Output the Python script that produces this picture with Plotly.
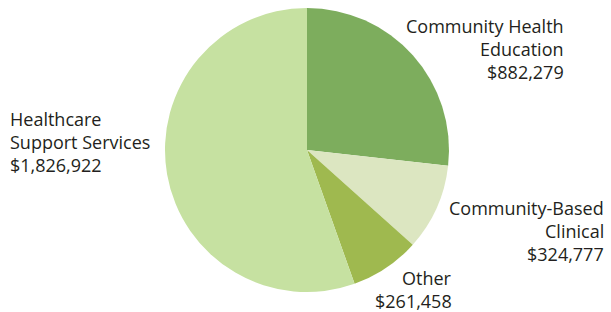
import plotly.graph_objects as go

categories = ["Community Health Education", "Community-Based Clinical", "Other", "Healthcare Support Services"]
label_lines = [["Community Health", "Education"], ["Community-Based", "Clinical"], ["Other"], ["Healthcare", "Support Services"]]
values = [882279, 324777, 261458, 1826922]
colors = ["#7dad5d", "#dce6c1", "#9fb94f", "#c6e1a1"]

W, H = 611, 312
fig = go.Figure(go.Pie(
    labels=categories, values=values, sort=False, direction="clockwise", rotation=0,
    marker=dict(colors=colors, line=dict(width=0)), textinfo="none", hoverinfo="label+value",
    domain=dict(x=[165 / W, 449 / W], y=[1 - 292 / H, 1 - 8 / H]), showlegend=False,
))

# label anchor positions in pixels (x, y of first line, align)
pos = [(566, 26, "right"), (606, 208, "right"), (454, 278, "right"), (8, 119, "left")]
font = dict(family="Open Sans, sans-serif", size=18, color="#231f20")
for lines, v, (px, py, al) in zip(label_lines, values, pos):
    texts = lines + ["${:,}".format(v)]
    for i, t in enumerate(texts):
        fig.add_annotation(
            text=t, x=px / W, y=1 - (py + i * 23) / H, xref="paper", yref="paper",
            xanchor="right" if al == "right" else "left", yanchor="middle",
            showarrow=False, font=font,
        )

fig.update_layout(width=W, height=H, margin=dict(l=0, r=0, t=0, b=0),
                  paper_bgcolor="white", plot_bgcolor="white")
fig.write_html("out.html", config={"displayModeBar": False},
               post_script="document.body.style.margin='0';document.body.style.overflow='hidden';")
